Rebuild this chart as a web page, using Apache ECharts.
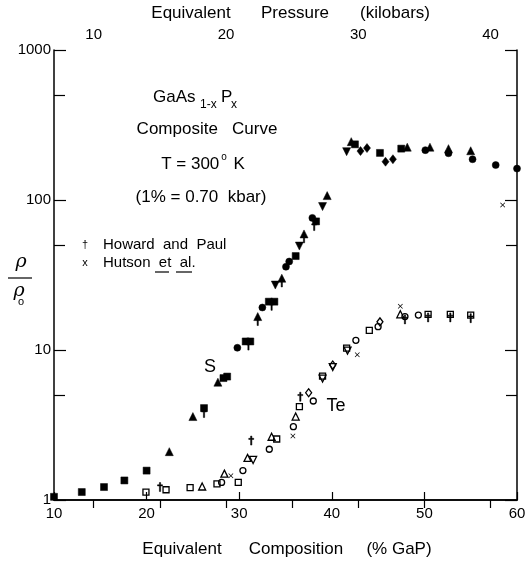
<!DOCTYPE html>
<html>
<head>
<meta charset="utf-8">
<script src="https://cdn.jsdelivr.net/npm/echarts@6/dist/echarts.min.js"></script>
<style>
  html, body { margin: 0; padding: 0; background: #fff; }
  #chart { width: 529px; height: 564px; }
</style>
</head>
<body>
<div id="chart"></div>
<script>
// Axis ticks
const compositionTicks = [10, 20, 30, 40, 50, 60];
const pressureTicks = [10, 15, 20, 25, 30, 35, 40];
const pressureLabels = [10, 20, 30, 40];
const ratioMinorTicks = [5, 50, 500];
const KBAR_PER_PERCENT = 0.70;

// S-doped samples (filled symbols): [composition % GaP, rho/rho0]
const sSquares = [[10.0, 1.05], [13.0, 1.13], [15.4, 1.22], [17.6, 1.35], [20.0, 1.57],
  [26.2, 4.1], [28.3, 6.5], [28.7, 6.65], [30.7, 11.4], [31.2, 11.4],
  [33.2, 21.0], [33.8, 21.0], [36.1, 42.3], [38.3, 72], [42.5, 235], [45.2, 206], [47.5, 220]];
const sTriangles = [[22.45, 2.1], [25.0, 3.6], [27.7, 6.1], [32.0, 16.7], [34.6, 30.1],
  [37.0, 59.4], [39.5, 107], [42.1, 245], [48.15, 225], [50.6, 225], [52.6, 220], [55.0, 213]];
const sCircles = [[29.8, 10.35], [32.5, 19.2], [35.05, 35.9], [35.4, 38.9], [37.9, 76],
  [50.1, 215], [52.6, 205], [55.2, 187], [57.7, 171], [60.0, 162]];
const sInvTriangles = [[33.9, 27.1], [36.5, 49.3], [39.0, 90.4], [41.6, 210]];
const sDiamonds = [[43.1, 212], [43.8, 222], [45.8, 180], [46.6, 187]];

// Te-doped samples (open symbols)
const teSquares = [[19.93, 1.13], [22.1, 1.17], [24.7, 1.21], [27.6, 1.28], [29.9, 1.31],
  [34.05, 2.55], [36.5, 4.19], [39.0, 6.7], [41.6, 10.3], [44.05, 13.5],
  [50.4, 17.3], [52.8, 17.3], [55.0, 17.1]];
const teTriangles = [[26.0, 1.23], [28.4, 1.5], [30.9, 1.91], [33.5, 2.64], [36.1, 3.6], [47.4, 17.3]];
const teCircles = [[28.1, 1.31], [30.4, 1.57], [33.25, 2.18], [35.85, 3.08],
  [38.0, 4.57], [42.6, 11.6], [45.0, 14.3], [47.9, 16.7], [49.35, 17.1]];
const teInvTriangles = [[31.5, 1.85], [39.0, 6.45], [40.1, 7.7], [41.7, 9.9]];
const teDiamonds = [[37.5, 5.19], [40.1, 7.94], [45.2, 15.4]];

// Howard and Paul (†) and Hutson et al. (x)
const howardPaul = [[21.45, 1.22], [31.3, 2.49], [36.6, 4.88], [47.9, 16.0],
  [50.4, 16.5], [52.8, 16.5], [55.0, 16.3], [32.0, 15.6], [34.6, 28.2], [37.0, 55.5],
  [26.2, 3.8], [31.0, 10.7], [33.5, 19.7], [38.1, 67]];
const hutson = [[29.1, 1.45], [35.8, 2.67], [42.75, 9.3], [47.4, 19.6], [58.45, 92.5]];

const FONT = 'Liberation Sans';
const INK = '#000';
const DAGGER = 'path://M4,0 L6,0 L6,4 L9,4 L9,6 L6,6 L6,16 L4,16 L4,6 L1,6 L1,4 L4,4 Z';
const CROSS = 'path://M0,1 L1,0 L5,4 L9,0 L10,1 L6,5 L10,9 L9,10 L5,6 L1,10 L0,9 L4,5 Z';

const filled = { color: INK, borderColor: INK, borderWidth: 0.5, opacity: 1 };
const open = { color: 'rgba(255,255,255,0)', borderColor: INK, borderWidth: 1.3, opacity: 1 };

function scatter(name, data, symbol, size, style, rotate) {
  return {
    name, type: 'scatter', data, symbol, symbolSize: size,
    symbolRotate: rotate || 0, itemStyle: style,
    emphasis: { disabled: true },
    xAxisIndex: 0, yAxisIndex: 0, silent: true, animation: false, z: 5
  };
}

const axisLineStyle = { color: INK, width: 1.5 };
const tickLine = { color: INK, width: 1.2 };
const labelStyle = { color: INK, fontFamily: FONT, fontSize: 15 };

const chart = echarts.init(document.getElementById('chart'), null, { renderer: 'canvas' });

function txt(text, x, y, size, font) {
  return {
    type: 'text', x, y,
    style: { text, fill: INK, font: `${size}px "${font || FONT}"`, align: 'center', verticalAlign: 'middle' }
  };
}
function ltxt(text, x, y, size) {
  return { type: 'text', x, y, style: { text, fill: INK, font: `${size}px "${FONT}"`, verticalAlign: 'middle' } };
}

chart.setOption({
  animation: false,
  backgroundColor: '#fff',
  grid: { left: 54, right: 12, top: 50, bottom: 64 },
  xAxis: [
    {
      type: 'value', position: 'bottom', min: 10, max: 60, interval: 10,
      axisLine: { lineStyle: axisLineStyle },
      axisTick: { inside: true, length: 8, customValues: compositionTicks, lineStyle: tickLine },
      axisLabel: Object.assign({ margin: 6, customValues: compositionTicks }, labelStyle),
      splitLine: { show: false }
    },
    {
      type: 'value', position: 'top',
      min: 10 * KBAR_PER_PERCENT, max: 60 * KBAR_PER_PERCENT,
      axisLine: { lineStyle: axisLineStyle },
      axisTick: { inside: true, length: 8, customValues: pressureTicks, lineStyle: tickLine },
      axisLabel: Object.assign({ margin: 8, customValues: pressureLabels }, labelStyle),
      splitLine: { show: false }
    }
  ],
  yAxis: [
    {
      type: 'log', logBase: 10, min: 1, max: 1000, position: 'left',
      axisLine: { show: true, lineStyle: axisLineStyle },
      axisTick: { inside: true, length: 12, lineStyle: tickLine },
      axisLabel: Object.assign({ margin: 3, formatter: v => String(Math.round(v)) }, labelStyle),
      splitLine: { show: false }
    },
    {
      type: 'log', logBase: 10, min: 1, max: 1000, position: 'right',
      axisLine: { show: true, lineStyle: axisLineStyle },
      axisTick: { inside: true, length: 12, lineStyle: tickLine },
      axisLabel: { show: false },
      splitLine: { show: false }
    },
    {
      type: 'value', min: 0, max: 3, position: 'left',
      axisLine: { show: false },
      axisTick: { show: true, inside: true, length: 11, customValues: ratioMinorTicks.map(Math.log10), lineStyle: tickLine },
      axisLabel: { show: false }, splitLine: { show: false }
    },
    {
      type: 'value', min: 0, max: 3, position: 'right',
      axisLine: { show: false },
      axisTick: { show: true, inside: true, length: 11, customValues: ratioMinorTicks.map(Math.log10), lineStyle: tickLine },
      axisLabel: { show: false }, splitLine: { show: false }
    }
  ],
  series: [
    scatter('S squares', sSquares, 'rect', 7, filled),
    scatter('S triangles', sTriangles, 'triangle', 8, filled),
    scatter('S circles', sCircles, 'circle', 7, filled),
    scatter('S inverted triangles', sInvTriangles, 'triangle', 8, filled, 180),
    scatter('S diamonds', sDiamonds, 'diamond', [7, 9], filled),
    scatter('Te squares', teSquares, 'rect', 6, open),
    scatter('Te triangles', teTriangles, 'triangle', 7, open),
    scatter('Te circles', teCircles, 'circle', 6, open),
    scatter('Te inverted triangles', teInvTriangles, 'triangle', 7, open, 180),
    scatter('Te diamonds', teDiamonds, 'diamond', [6, 8], open),
    scatter('Howard and Paul', howardPaul, DAGGER, [5, 9], filled),
    scatter('Hutson et al.', hutson, CROSS, 5, { color: INK, opacity: 1 })
  ],
  graphic: [
    // axis titles
    txt('Equivalent', 191, 13, 17), txt('Pressure', 295, 13, 17), txt('(kilobars)', 395, 13, 17),
    txt('Equivalent', 182, 549, 17), txt('Composition', 296, 549, 17), txt('(% GaP)', 399, 549, 17),
    // rho / rho0
    { type: 'text', x: 21, y: 262, style: { text: 'ρ', fill: INK, font: 'italic 19px "DejaVu Serif"', align: 'center', verticalAlign: 'middle' } },
    { type: 'line', shape: { x1: 8, y1: 278, x2: 32, y2: 278 }, style: { stroke: INK, lineWidth: 1.2 } },
    { type: 'text', x: 19, y: 291, style: { text: 'ρ', fill: INK, font: 'italic 19px "DejaVu Serif"', align: 'center', verticalAlign: 'middle' } },
    txt('o', 21, 302, 11),
    // composition formula
    ltxt('GaAs', 153, 97, 17), ltxt('1-x', 200, 105, 12), ltxt('P', 221, 97, 17), ltxt('x', 231, 105, 12),
    txt('Composite   Curve', 207, 129, 17),
    txt('T = 300   K', 203, 164, 17),
    txt('o', 224, 157, 10),
    txt('(1% = 0.70  kbar)', 201, 197, 17),
    // legend
    txt('†', 85, 245, 11), txt('x', 85, 263, 11),
    ltxt('Howard  and  Paul', 103, 245, 15),
    ltxt('Hutson  et  al.', 103, 263, 15),
    { type: 'line', shape: { x1: 155, y1: 272, x2: 169, y2: 272 }, style: { stroke: INK, lineWidth: 1.2 } },
    { type: 'line', shape: { x1: 176, y1: 272, x2: 192, y2: 272 }, style: { stroke: INK, lineWidth: 1.2 } },
    // curve labels
    txt('S', 210, 367, 18),
    txt('Te', 336, 406, 18)
  ]
});
</script>
</body>
</html>
